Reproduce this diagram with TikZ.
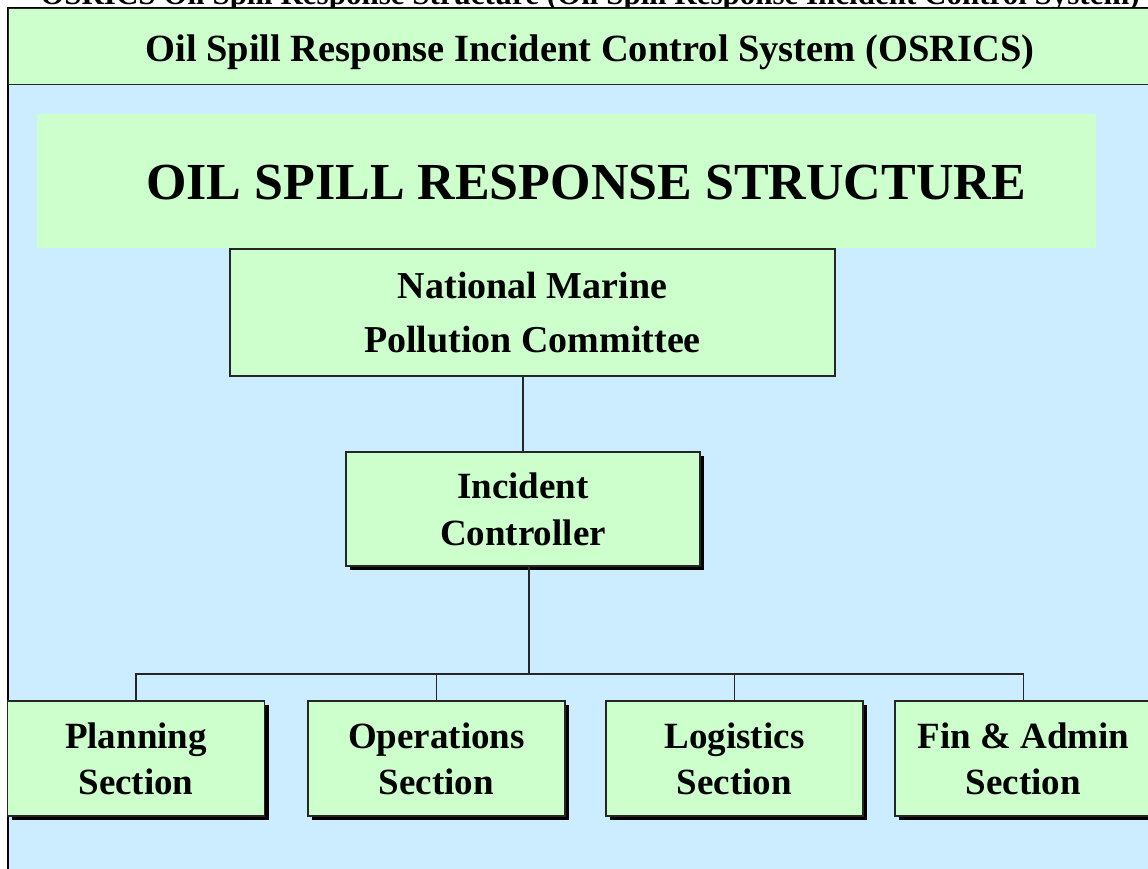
\documentclass[tikz,border=0pt]{standalone}
\usepackage{fontspec}
\setmainfont{Liberation Serif}
\usetikzlibrary{positioning, shadows, calc}
\usepackage{xcolor}
\definecolor{paleGreen}{RGB}{204,255,204}
\definecolor{paleBlue}{RGB}{204,236,255}
\tikzset{
  box/.style={draw=black!85, line width=1.2pt, fill=paleGreen, align=center, inner sep=0pt},
  shadowbox/.style={box, drop shadow={shadow xshift=4pt, shadow yshift=-4pt, fill=black, opacity=1}},
  section/.style={shadowbox, minimum width=257pt, minimum height=115pt, font=\bfseries\fontsize{37}{46}\selectfont},
  link/.style={draw=black!85, line width=1.2pt}
}

\begin{document}
\begin{tikzpicture}[x=1pt, y=-1pt]
    % Cadre de l'image (coordonnees en pixels)
    \clip (0,0) rectangle (1148,868);
    \fill[white] (0,0) rectangle (1148,868);

    % Titre coupe en haut de l'image
    \node[anchor=base, font=\bfseries\fontsize{31}{31}\selectfont] (cuttitle) at (590,4)
        {OSRICS Oil Spill Response Structure (Oil Spill Response Incident Control System)};

    % Fond bleu et bandeau vert
    \draw[line width=1.2pt, fill=paleBlue] (8,8) rectangle (1170,890);
    \node[box, anchor=north west, minimum width=1170pt, minimum height=76pt] (band) at (8,8) {};
    \node[anchor=base, font=\bfseries\fontsize{38.5}{38.5}\selectfont] (bandtitle) at (590,61)
        {Oil Spill Response Incident Control System (OSRICS)};

    % Panneau du titre principal
    \node[fill=paleGreen, anchor=north west, minimum width=1059pt, minimum height=134pt, inner sep=0pt] (banner) at (37,114) {};
    \node[anchor=base, font=\bfseries\fontsize{52}{52}\selectfont] (heading) at (586,199)
        {OIL SPILL RESPONSE STRUCTURE};

    % Comite et controleur
    \node[box, minimum width=605pt, minimum height=127pt, font=\bfseries\fontsize{38}{54}\selectfont] (nmpc) at (532.5,312.5)
        {National Marine\\Pollution Committee};
    \node[shadowbox, minimum width=354pt, minimum height=114pt, font=\bfseries\fontsize{37}{47}\selectfont] (ic) at (523,509)
        {Incident\\Controller};

    % Sections
    \foreach \name/\x/\txt in {plan/136/Planning, ops/436.5/Operations, log/734.5/Logistics, fin/1023.5/{Fin \& Admin}} {
        \node[section] (\name) at (\x,758.5) {\txt\\Section};
    }

    % Liaisons
    \coordinate (bar) at (529,674);
    \draw[link] (ic.north |- nmpc.south) -- (ic.north);
    \draw[link] (ic.south -| bar) -- (bar);
    \draw[link] (plan.north) |- (bar) -| (fin.north);
    \foreach \name in {ops, log} {
        \draw[link] (\name.north) -- (\name.north |- bar);
    }
\end{tikzpicture}
\end{document}
